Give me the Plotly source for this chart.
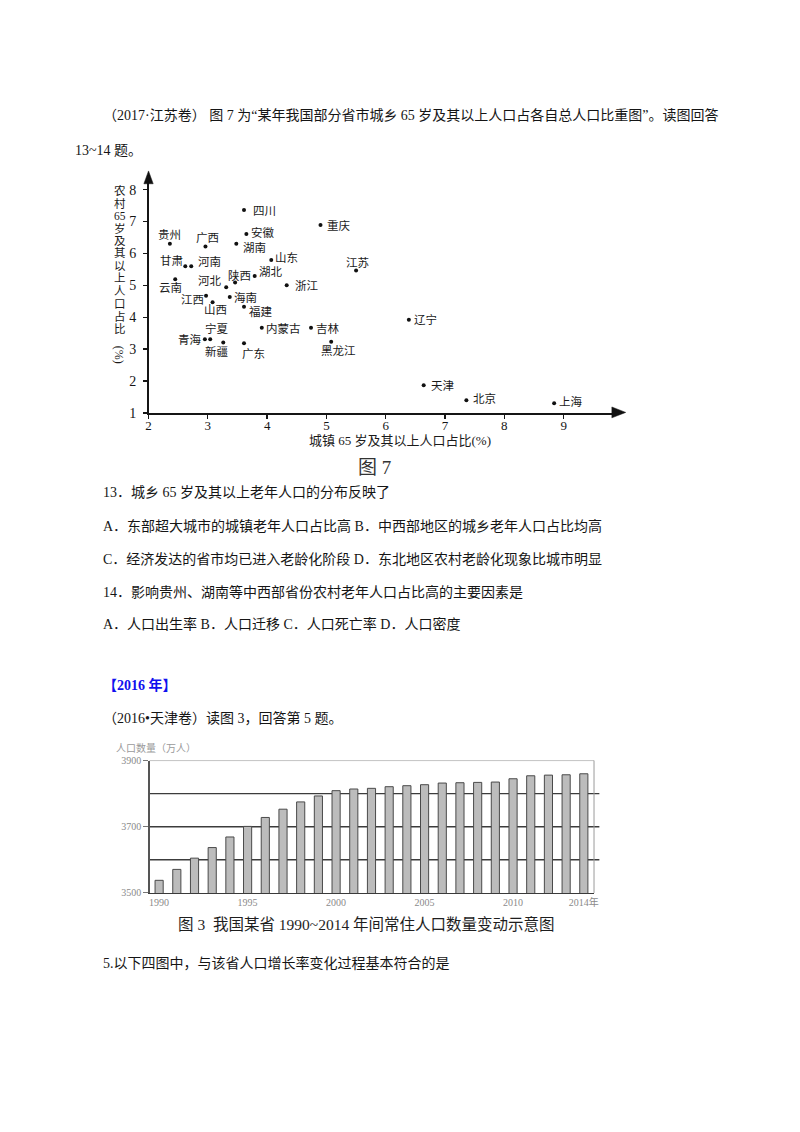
import plotly.graph_objects as go

W, H = 800, 1132

# ---------------- data: scatter (图 7) ----------------
provinces = ["四川", "重庆", "安徽", "贵州", "广西", "湖南", "山东", "江苏", "甘肃", "河南",
             "湖北", "陕西", "云南", "河北", "浙江", "江西", "海南", "山西", "福建", "内蒙古",
             "吉林", "辽宁", "宁夏", "青海", "新疆", "广东", "黑龙江", "天津", "北京", "上海"]
urban_pct = [3.61, 4.90, 3.65, 2.36, 2.96, 3.48, 4.07, 5.50, 2.62, 2.72,
             3.79, 3.46, 2.45, 3.31, 4.33, 2.97, 3.37, 3.08, 3.61, 3.91,
             4.74, 6.39, 3.04, 2.95, 3.26, 3.61, 5.08, 6.64, 7.36, 8.84]
rural_pct = [7.36, 6.89, 6.61, 6.30, 6.22, 6.30, 5.79, 5.46, 5.60, 5.60,
             5.29, 5.09, 5.19, 4.94, 5.00, 4.67, 4.63, 4.47, 4.33, 3.67,
             3.67, 3.92, 3.31, 3.31, 3.21, 3.18, 3.23, 1.87, 1.40, 1.30]
x_ticks = [2, 3, 4, 5, 6, 7, 8, 9]
y_ticks = [1, 2, 3, 4, 5, 6, 7, 8]
x_title = "城镇 65 岁及其以上人口占比(%)"
y_title_chars = ["农", "村", "65", "岁", "及", "其", "以", "上", "人", "口", "占", "比"]
y_title_unit = "(%)"

# ---------------- data: bars (图 3) ----------------
years = [1990, 1991, 1992, 1993, 1994, 1995, 1996, 1997, 1998, 1999, 2000, 2001, 2002,
         2003, 2004, 2005, 2006, 2007, 2008, 2009, 2010, 2011, 2012, 2013, 2014]
population = [3538, 3571, 3605, 3637, 3669, 3701, 3728, 3753, 3775, 3793, 3809, 3814, 3816,
              3821, 3824, 3827, 3832, 3833, 3834, 3835, 3845, 3854, 3856, 3857, 3860]
bar_xtick_vals = [1990, 1995, 2000, 2005, 2010, 2014]
bar_xtick_text = ["1990", "1995", "2000", "2005", "2010", "2014年"]
bar_ytick_vals = [3500, 3700, 3900]
bar_grid_levels = [3600, 3700, 3800]

# ---------------- label offsets (style, pixels: dx, dy) ----------------
label_offsets = [(20, 0), (18, 0), (17, -2), (0, -10), (2, -9), (18, 3), (15, -3), (1, -9), (-14, -6), (18, -5),
                 (16, -5), (4, -7), (-5, 8), (-16, -7), (20, 0), (-14, 3), (16, 0), (3, 7), (17, 4), (22, 0),
                 (17, 0), (17, -1), (7, -11), (-15, 0), (-6, 9), (9, 10), (7, 8), (19, 0), (18, -2), (17, -2)]

BODY = "Liberation Serif, Noto Sans CJK SC"
CJK = "Noto Sans CJK SC"


def px(x):
    return x / W


def py(y):
    return 1 - y / H


annotations = []
shapes = []


def text(x, y, s, size=14, color="#151515", xanchor="left", family=BODY, weight="normal", angle=0):
    annotations.append(dict(x=px(x), y=py(y), xref="paper", yref="paper", text=s,
                            showarrow=False, xanchor=xanchor, yanchor="middle", textangle=angle,
                            borderpad=0,
                            font=dict(size=size, color=color, family=family, weight=weight)))


# ---- body text ----
text(100, 110, "（2017·江苏卷） 图 7 为“某年我国部分省市城乡 65 岁及其以上人口占各自总人口比重图”。读图回答")
text(72, 146, "13~14 题。")
text(100, 493, "13．城乡 65 岁及其以上老年人口的分布反映了")
text(100, 527, "A．东部超大城市的城镇老年人口占比高 B．中西部地区的城乡老年人口占比均高")
text(100, 560, "C．经济发达的省市均已进入老龄化阶段 D．东北地区农村老龄化现象比城市明显")
text(100, 593, "14．影响贵州、湖南等中西部省份农村老年人口占比高的主要因素是")
text(100, 626, "A．人口出生率 B．人口迁移 C．人口死亡率 D．人口密度")
text(100, 688, "【2016 年】", color="#1010ee", weight="bold")
text(100, 721, "（2016•天津卷）读图 3，回答第 5 题。")
text(100, 969, "5.以下四图中，与该省人口增长率变化过程基本符合的是")

# ---- scatter geometry (pixels) ----
SX0, SX1 = 147, 617      # x-axis pixel span (x=2 at 147)
SY0, SY1 = 412, 176      # y-axis pixel span (y=1 at 412)
X_PER = 59.9
Y_PER = 32.3
x_range = [2, 2 + (SX1 - SX0) / X_PER]
y_range = [1, 1 + (SY0 - SY1) / Y_PER]

fig = go.Figure()

fig.add_trace(go.Scatter(x=urban_pct, y=rural_pct, mode="markers",
                         marker=dict(color="#111", size=4),
                         xaxis="x", yaxis="y", hoverinfo="skip", showlegend=False))

for name, xv, yv, (dx, dy) in zip(provinces, urban_pct, rural_pct, label_offsets):
    annotations.append(dict(x=xv, y=yv, xref="x", yref="y", text=name, showarrow=False,
                            xanchor="center", yanchor="middle", xshift=dx, yshift=-dy,
                            font=dict(size=11.5, color="#1a1a1a", family=CJK)))

# axis titles
text(401, 440, x_title, size=13, color="#1a1a1a", xanchor="center")
for i, ch in enumerate(y_title_chars):
    text(118, 187 + i * 12.7, ch, size=11.5, color="#1a1a1a", xanchor="center")
text(118, 353, y_title_unit, size=12, color="#1a1a1a", xanchor="center", angle=90)

# figure caption 图 7
text(375, 467, "图 7", size=19, color="#333", xanchor="center")

# arrows
shapes.append(dict(type="path", xref="paper", yref="paper",
                   path=f"M {px(629)} {py(411.5)} L {px(615)} {py(406)} L {px(615)} {py(417)} Z",
                   fillcolor="#111", line=dict(color="#111", width=0.5)))
shapes.append(dict(type="path", xref="paper", yref="paper",
                   path=f"M {px(147)} {py(167)} L {px(142.3)} {py(180)} L {px(151.7)} {py(180)} Z",
                   fillcolor="#111", line=dict(color="#111", width=0.5)))

# ---------------- bar chart ----------------
BX0, BX1 = 148, 597
BY_TOP, BY_BOT = 764, 898
YEAR_PX = 17.875
bar_x_range = [1990 - (157.7 - BX0) / YEAR_PX, 2014 + (BX1 - 586.7) / YEAR_PX]

fig.add_trace(go.Bar(x=years, y=population, xaxis="x2", yaxis="y2", width=0.46,
                     marker=dict(color="#bcbcbc", line=dict(color="#4a4a4a", width=1)),
                     hoverinfo="skip", showlegend=False))

for lv in bar_grid_levels:
    shapes.append(dict(type="line", xref="x2 domain", yref="y2", x0=0, x1=1.012, y0=lv, y1=lv,
                       line=dict(color="#3c3c3c", width=1.4), layer="below"))
shapes.append(dict(type="line", xref="x2 domain", yref="y2", x0=0, x1=1, y0=3900, y1=3900,
                   line=dict(color="#8c8c8c", width=1), layer="below"))
shapes.append(dict(type="line", xref="x2 domain", yref="y2 domain", x0=1, x1=1, y0=0, y1=1,
                   line=dict(color="#9a9a9a", width=1), layer="below"))

text(113, 751, "人口数量（万人）", size=10, color="#9a9a9a")
text(367, 930, "图 3  我国某省 1990~2014 年间常住人口数量变动示意图", size=15.5, color="#1e1e1e",
     xanchor="center")

fig.update_layout(
    width=W, height=H, autosize=False,
    margin=dict(l=0, r=0, t=0, b=0),
    paper_bgcolor="white", plot_bgcolor="rgba(0,0,0,0)",
    showlegend=False,
    xaxis=dict(domain=[px(SX0), px(SX1)], range=x_range, anchor="y",
               tickvals=x_ticks, showline=True, linecolor="#151515", linewidth=1.6,
               ticks="outside", ticklen=4, tickcolor="#151515", tickwidth=1.3,
               ticklabelstandoff=-4,
               tickfont=dict(size=13, color="#151515", family="Liberation Serif"),
               showgrid=False, zeroline=False, fixedrange=True),
    yaxis=dict(domain=[py(SY0), py(SY1)], range=y_range, anchor="x",
               tickvals=y_ticks, showline=True, linecolor="#151515", linewidth=1.6,
               ticks="outside", ticklen=4, tickcolor="#151515", tickwidth=1.3,
               ticklabelstandoff=4,
               tickfont=dict(size=14, color="#151515", family="Liberation Serif"),
               showgrid=False, zeroline=False, fixedrange=True),
    xaxis2=dict(domain=[px(BX0), px(BX1)], range=bar_x_range, anchor="y2",
                tickvals=bar_xtick_vals, ticktext=bar_xtick_text,
                showline=True, linecolor="#3a3a3a", linewidth=1.5, ticks="",
                tickfont=dict(size=10, color="#8a8a8a", family="Liberation Serif, Noto Sans CJK SC"),
                showgrid=False, zeroline=False, fixedrange=True),
    yaxis2=dict(domain=[py(BY_BOT), py(BY_TOP)], range=[3500, 3900], anchor="x2",
                tickvals=bar_ytick_vals, showline=True, linecolor="#555", linewidth=1.2,
                ticks="outside", ticklen=5, tickcolor="#777",
                tickfont=dict(size=10, color="#8a8a8a", family="Liberation Serif"),
                showgrid=False, zeroline=False, fixedrange=True),
    annotations=annotations,
    shapes=shapes,
)

fig.write_html("out.html", config={"displayModeBar": False, "staticPlot": True},
               post_script="document.body.style.margin='0';document.body.style.padding='0';"
                           "document.documentElement.style.overflow='hidden';")
